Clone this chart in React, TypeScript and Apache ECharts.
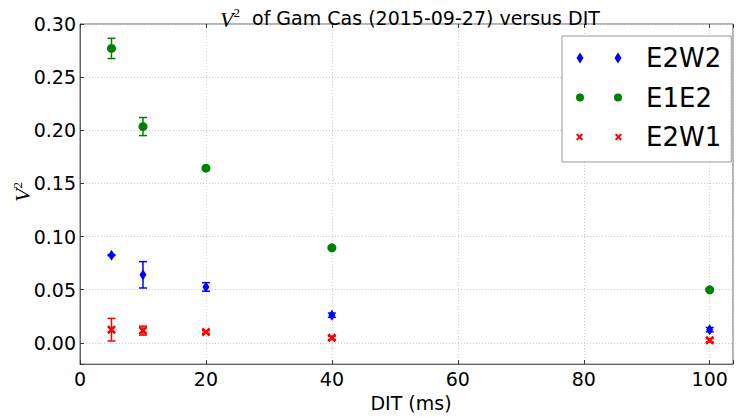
import React, { useEffect, useRef } from "react";
import * as echarts from "echarts";

const dit = [5, 10, 20, 40, 100];
const e2w2 = [0.0825, 0.064, 0.0526, 0.026, 0.0124];
const e2w2Err = [0.0005, 0.0124, 0.004, 0.002, 0.002];
const e1e2 = [0.277, 0.2035, 0.1643, 0.0894, 0.0499];
const e1e2Err = [0.0095, 0.0085, 0.0012, 0.001, 0.001];
const e2w1 = [0.0124, 0.0115, 0.0102, 0.0047, 0.0024];
const e2w1Err = [0.0106, 0.0042, 0.0012, 0.0015, 0.0015];
const seriesNames = ["E2W2", "E1E2", "E2W1"];

const FONT = "DejaVu Sans";
const X_PATH = "path://M0,2L2,0L5,3L8,0L10,2L7,5L10,8L8,10L5,7L2,10L0,8L3,5Z";
const DIAMOND_ICON = "path://M3.5,0L7,5.5L3.5,11L0,5.5ZM41.5,0L45,5.5L41.5,11L38,5.5Z";
const CIRCLE_ICON = "path://M0,4a4,4 0 1,0 8,0a4,4 0 1,0 -8,0ZM38,4a4,4 0 1,0 8,0a4,4 0 1,0 -8,0Z";
const X_ICON = "path://M0,1.4L1.4,0L3.5,2.1L5.6,0L7,1.4L4.9,3.5L7,5.6L5.6,7L3.5,4.9L1.4,7L0,5.6L2.1,3.5ZM38,1.4L39.4,0L41.5,2.1L43.6,0L45,1.4L42.9,3.5L45,5.6L43.6,7L41.5,4.9L39.4,7L38,5.6L40.1,3.5Z";

function errSeries(name: string, ys: number[], errs: number[], color: string) {
  return {
    type: "custom",
    name: name + " err",
    silent: true,
    z: 1,
    data: dit.map((x, i) => [x, ys[i] - errs[i], ys[i] + errs[i]]),
    encode: { x: 0, y: [1, 2] },
    renderItem: (params: any, api: any) => {
      const x = api.value(0);
      const lo = api.coord([x, api.value(1)]);
      const hi = api.coord([x, api.value(2)]);
      const hw = 4;
      const st = { stroke: color, lineWidth: 1.5 };
      return {
        type: "group",
        children: [
          { type: "line", shape: { x1: lo[0], y1: lo[1], x2: hi[0], y2: hi[1] }, style: st },
          { type: "line", shape: { x1: lo[0] - hw, y1: lo[1], x2: lo[0] + hw, y2: lo[1] }, style: st },
          { type: "line", shape: { x1: hi[0] - hw, y1: hi[1], x2: hi[0] + hw, y2: hi[1] }, style: st },
        ],
      };
    },
  };
}

export default function App() {
  const ref = useRef<HTMLDivElement>(null);
  useEffect(() => {
    const chart = echarts.init(ref.current!, null, { renderer: "svg" });
    const xCommon = {
      type: "value",
      min: 0,
      max: 103.7,
      interval: 20,
    };
    chart.setOption({
      animation: false,
      backgroundColor: "#fff",
      textStyle: { fontFamily: FONT },
      title: {
        text: "{i|V}{s|2}  of Gam Cas (2015-09-27) versus DIT",
        left: 215,
        top: 1,
        textStyle: {
          fontFamily: FONT,
          fontSize: 19,
          fontWeight: "normal",
          color: "#000",
          rich: {
            i: { fontFamily: "Liberation Serif", fontStyle: "italic", fontSize: 22, color: "#000", padding: [2, 0, 0, 0] },
            s: { fontFamily: "Liberation Serif", fontSize: 13, color: "#000", verticalAlign: "top", padding: [0, 0, 10, 0] },
          },
        },
      },
      grid: {
        left: 80,
        top: 24,
        right: 1,
        bottom: 50,
        show: true,
        borderColor: "#666",
        borderWidth: 1,
        backgroundColor: "transparent",
      },
      legend: {
        orient: "vertical",
        left: 562,
        top: 36,
        padding: [7, 10, 10, 14],
        itemWidth: 46,
        itemHeight: 11,
        itemGap: 9.5,
        borderColor: "#999",
        borderWidth: 1,
        backgroundColor: "#fff",
        textStyle: { fontFamily: FONT, fontSize: 26, color: "#000", lineHeight: 30, padding: [0, 0, 0, 19] },
        data: [
          { name: "E2W2", icon: DIAMOND_ICON },
          { name: "E1E2", icon: CIRCLE_ICON },
          { name: "E2W1", icon: X_ICON },
        ],
      },
      xAxis: [
        {
          ...xCommon,
          position: "bottom",
          name: "DIT (ms)",
          nameLocation: "middle",
          nameGap: 22,
          nameTextStyle: { fontFamily: FONT, fontSize: 19, color: "#000", padding: [0, 0, 0, 9] },
          axisLine: { onZero: false, lineStyle: { color: "#666", width: 1 } },
          axisTick: { inside: true, length: 4, lineStyle: { color: "#333" } },
          axisLabel: {
            fontFamily: FONT,
            fontSize: 19,
            color: "#000",
            margin: 5,
            formatter: (v: number) => (v % 20 === 0 ? String(v) : ""),
          },
          splitLine: { show: true, lineStyle: { color: "#ccc", type: [1, 2], width: 1 } },
        },
        {
          ...xCommon,
          position: "top",
          axisLine: { show: false, onZero: false },
          axisTick: { inside: true, length: 4, lineStyle: { color: "#333" } },
          axisLabel: { show: false },
          splitLine: { show: false },
        },
      ],
      yAxis: {
        type: "value",
        min: -0.02,
        max: 0.3,
        splitNumber: 6,
        axisLine: { show: true, onZero: false, lineStyle: { color: "#666", width: 1 } },
        axisTick: { show: true, inside: true, length: 4, lineStyle: { color: "#333" } },
        axisLabel: {
          fontFamily: FONT,
          fontSize: 19,
          color: "#000",
          margin: 4,
          formatter: (v: number) => (v < -0.001 ? "" : Math.abs(v).toFixed(2)),
        },
        splitLine: { show: true, lineStyle: { color: "#ccc", type: [1, 2], width: 1 } },
      },
      graphic: [
        {
          type: "text",
          x: 22,
          y: 192,
          rotation: Math.PI / 2,
          style: {
            text: "{i|V}{s|2}",
            align: "center",
            verticalAlign: "middle",
            rich: {
              i: { fontFamily: "Liberation Serif", fontStyle: "italic", fontSize: 22, fill: "#000" },
              s: { fontFamily: "Liberation Serif", fontSize: 13, fill: "#000", verticalAlign: "top", padding: [0, 0, 10, 0] },
            },
          },
        },
      ],
      series: [
        errSeries("E2W2", e2w2, e2w2Err, "#0000ff"),
        errSeries("E1E2", e1e2, e1e2Err, "#008000"),
        errSeries("E2W1", e2w1, e2w1Err, "#ff0000"),
        {
          type: "scatter",
          name: seriesNames[0],
          symbol: "diamond",
          symbolSize: [7, 11],
          itemStyle: { color: "#0000ff", opacity: 1 },
          z: 3,
          data: dit.map((x, i) => [x, e2w2[i]]),
        },
        {
          type: "scatter",
          name: seriesNames[1],
          symbol: "circle",
          symbolSize: 9,
          itemStyle: { color: "#008000", opacity: 1 },
          z: 3,
          data: dit.map((x, i) => [x, e1e2[i]]),
        },
        {
          type: "scatter",
          name: seriesNames[2],
          symbol: X_PATH,
          symbolSize: 9,
          itemStyle: { color: "#ff0000", opacity: 1 },
          z: 3,
          data: dit.map((x, i) => [x, e2w1[i]]),
        },
      ],
    });
    return () => chart.dispose();
  }, []);
  return (
    <div
      ref={ref}
      style={{ position: "fixed", left: 0, top: 0, width: 736, height: 417, background: "#fff" }}
    />
  );
}
